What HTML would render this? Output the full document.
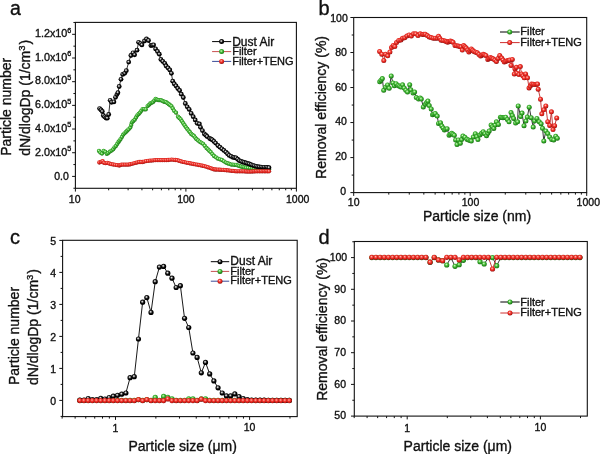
<!DOCTYPE html>
<html><head><meta charset="utf-8"><title>Figure</title>
<style>html,body{margin:0;padding:0;background:#fff;width:600px;height:454px;overflow:hidden}svg{display:block}</style>
</head><body>
<svg width="600" height="454" viewBox="0 0 600 454" font-family="'Liberation Sans', Arial, Helvetica, sans-serif" fill="#111"><style>text{stroke:#111;stroke-width:0.35px}</style>

<defs>
 <radialGradient id="gK" cx="0.45" cy="0.42" r="0.55" fx="0.42" fy="0.38">
  <stop offset="0" stop-color="#f4f4f4"/><stop offset="0.2" stop-color="#b4b4b4"/><stop offset="0.45" stop-color="#303030"/><stop offset="0.7" stop-color="#000"/>
 </radialGradient>
 <radialGradient id="gG" cx="0.45" cy="0.42" r="0.55" fx="0.42" fy="0.38">
  <stop offset="0" stop-color="#e0ffd8"/><stop offset="0.25" stop-color="#88dc78"/><stop offset="0.55" stop-color="#3cb030"/><stop offset="0.85" stop-color="#24901c"/><stop offset="1" stop-color="#1a6c14"/>
 </radialGradient>
 <radialGradient id="gR" cx="0.45" cy="0.42" r="0.55" fx="0.42" fy="0.38">
  <stop offset="0" stop-color="#ffd0c8"/><stop offset="0.25" stop-color="#f87068"/><stop offset="0.55" stop-color="#ec2c24"/><stop offset="0.85" stop-color="#cc1c16"/><stop offset="1" stop-color="#901010"/>
 </radialGradient>
</defs>

<rect width="600" height="454" fill="#fff"/>
<rect x="75.4" y="22.4" width="221" height="165.9" fill="none" stroke="#111" stroke-width="1.1"/><g stroke="#111" stroke-width="1"><line x1="75.4" y1="188.3" x2="75.4" y2="191.6"/><line x1="185.9" y1="188.3" x2="185.9" y2="191.6"/><line x1="296.4" y1="188.3" x2="296.4" y2="191.6"/><line x1="108.66" y1="188.3" x2="108.66" y2="190.3"/><line x1="128.12" y1="188.3" x2="128.12" y2="190.3"/><line x1="141.93" y1="188.3" x2="141.93" y2="190.3"/><line x1="152.64" y1="188.3" x2="152.64" y2="190.3"/><line x1="161.39" y1="188.3" x2="161.39" y2="190.3"/><line x1="168.78" y1="188.3" x2="168.78" y2="190.3"/><line x1="175.19" y1="188.3" x2="175.19" y2="190.3"/><line x1="180.84" y1="188.3" x2="180.84" y2="190.3"/><line x1="219.16" y1="188.3" x2="219.16" y2="190.3"/><line x1="238.62" y1="188.3" x2="238.62" y2="190.3"/><line x1="252.43" y1="188.3" x2="252.43" y2="190.3"/><line x1="263.14" y1="188.3" x2="263.14" y2="190.3"/><line x1="271.89" y1="188.3" x2="271.89" y2="190.3"/><line x1="279.28" y1="188.3" x2="279.28" y2="190.3"/><line x1="285.69" y1="188.3" x2="285.69" y2="190.3"/><line x1="291.34" y1="188.3" x2="291.34" y2="190.3"/><line x1="72.1" y1="176.4" x2="75.4" y2="176.4"/><line x1="72.1" y1="152.72" x2="75.4" y2="152.72"/><line x1="72.1" y1="129.04" x2="75.4" y2="129.04"/><line x1="72.1" y1="105.36" x2="75.4" y2="105.36"/><line x1="72.1" y1="81.68" x2="75.4" y2="81.68"/><line x1="72.1" y1="58" x2="75.4" y2="58"/><line x1="72.1" y1="34.32" x2="75.4" y2="34.32"/><line x1="73.4" y1="188.24" x2="75.4" y2="188.24"/><line x1="73.4" y1="164.56" x2="75.4" y2="164.56"/><line x1="73.4" y1="140.88" x2="75.4" y2="140.88"/><line x1="73.4" y1="117.2" x2="75.4" y2="117.2"/><line x1="73.4" y1="93.52" x2="75.4" y2="93.52"/><line x1="73.4" y1="69.84" x2="75.4" y2="69.84"/><line x1="73.4" y1="46.16" x2="75.4" y2="46.16"/><line x1="73.4" y1="22.48" x2="75.4" y2="22.48"/></g><text x="74.7" y="202.5" font-size="10.5" text-anchor="middle" >10</text><text x="185.9" y="202.5" font-size="10.5" text-anchor="middle" >100</text><text x="297.7" y="202.5" font-size="10.5" text-anchor="middle" >1000</text><text x="68.8" y="180.2" font-size="10.5" text-anchor="end" >0.0</text><text x="71.3" y="155.52" font-size="10.8" text-anchor="end">2.0x10<tspan font-size="7.2" dy="-4.4">5</tspan></text><text x="71.3" y="131.84" font-size="10.8" text-anchor="end">4.0x10<tspan font-size="7.2" dy="-4.4">5</tspan></text><text x="71.3" y="108.16" font-size="10.8" text-anchor="end">6.0x10<tspan font-size="7.2" dy="-4.4">5</tspan></text><text x="71.3" y="84.48" font-size="10.8" text-anchor="end">8.0x10<tspan font-size="7.2" dy="-4.4">5</tspan></text><text x="71.3" y="60.8" font-size="10.8" text-anchor="end">1.0x10<tspan font-size="7.2" dy="-4.4">6</tspan></text><text x="71.3" y="37.12" font-size="10.8" text-anchor="end">1.2x10<tspan font-size="7.2" dy="-4.4">6</tspan></text><text transform="translate(10.8,155.8) rotate(-90)" font-size="14">Particle number</text><text transform="translate(30.0,155.8) rotate(-90)" font-size="14">dN/dlogDp (1/cm<tspan font-size="9.5" dy="-5">3</tspan><tspan dy="5" dx="1">)</tspan></text><text x="10.0" y="15.2" font-size="19.5">a</text><rect x="353.7" y="17.5" width="233" height="175.1" fill="none" stroke="#111" stroke-width="1.1"/><g stroke="#111" stroke-width="1"><line x1="353.7" y1="192.6" x2="353.7" y2="195.9"/><line x1="470.2" y1="192.6" x2="470.2" y2="195.9"/><line x1="586.7" y1="192.6" x2="586.7" y2="195.9"/><line x1="388.77" y1="192.6" x2="388.77" y2="194.6"/><line x1="409.28" y1="192.6" x2="409.28" y2="194.6"/><line x1="423.84" y1="192.6" x2="423.84" y2="194.6"/><line x1="435.13" y1="192.6" x2="435.13" y2="194.6"/><line x1="444.35" y1="192.6" x2="444.35" y2="194.6"/><line x1="452.15" y1="192.6" x2="452.15" y2="194.6"/><line x1="458.91" y1="192.6" x2="458.91" y2="194.6"/><line x1="464.87" y1="192.6" x2="464.87" y2="194.6"/><line x1="505.27" y1="192.6" x2="505.27" y2="194.6"/><line x1="525.78" y1="192.6" x2="525.78" y2="194.6"/><line x1="540.34" y1="192.6" x2="540.34" y2="194.6"/><line x1="551.63" y1="192.6" x2="551.63" y2="194.6"/><line x1="560.85" y1="192.6" x2="560.85" y2="194.6"/><line x1="568.65" y1="192.6" x2="568.65" y2="194.6"/><line x1="575.41" y1="192.6" x2="575.41" y2="194.6"/><line x1="581.37" y1="192.6" x2="581.37" y2="194.6"/><line x1="350.4" y1="192.6" x2="353.7" y2="192.6"/><line x1="350.4" y1="157.58" x2="353.7" y2="157.58"/><line x1="350.4" y1="122.56" x2="353.7" y2="122.56"/><line x1="350.4" y1="87.54" x2="353.7" y2="87.54"/><line x1="350.4" y1="52.52" x2="353.7" y2="52.52"/><line x1="350.4" y1="17.5" x2="353.7" y2="17.5"/><line x1="351.7" y1="175.09" x2="353.7" y2="175.09"/><line x1="351.7" y1="140.07" x2="353.7" y2="140.07"/><line x1="351.7" y1="105.05" x2="353.7" y2="105.05"/><line x1="351.7" y1="70.03" x2="353.7" y2="70.03"/><line x1="351.7" y1="35.01" x2="353.7" y2="35.01"/></g><text x="353.7" y="206.3" font-size="10.5" text-anchor="middle" >10</text><text x="470.5" y="206.3" font-size="10.5" text-anchor="middle" >100</text><text x="588.3" y="206.3" font-size="10.5" text-anchor="middle" >1000</text><text x="346" y="194.7" font-size="10.5" text-anchor="end" >0</text><text x="346.9" y="160.06" font-size="10.5" text-anchor="end" >20</text><text x="346.9" y="125.42" font-size="10.5" text-anchor="end" >40</text><text x="346.9" y="90.78" font-size="10.5" text-anchor="end" >60</text><text x="346.9" y="56.14" font-size="10.5" text-anchor="end" >80</text><text x="347.8" y="21.5" font-size="10.5" text-anchor="end" >100</text><text transform="translate(326.2,178.9) rotate(-90)" font-size="14">Removal efficiency (%)</text><text x="423" y="220.5" font-size="14" text-anchor="start" >Particle size (nm)</text><text x="318.6" y="14.6" font-size="20" text-anchor="start" >b</text><rect x="62.6" y="240.3" width="234.6" height="176.3" fill="none" stroke="#111" stroke-width="1.1"/><g stroke="#111" stroke-width="1"><line x1="115.5" y1="416.6" x2="115.5" y2="419.9"/><line x1="249.6" y1="416.6" x2="249.6" y2="419.9"/><line x1="62.14" y1="416.6" x2="62.14" y2="418.6"/><line x1="75.13" y1="416.6" x2="75.13" y2="418.6"/><line x1="85.75" y1="416.6" x2="85.75" y2="418.6"/><line x1="94.73" y1="416.6" x2="94.73" y2="418.6"/><line x1="102.5" y1="416.6" x2="102.5" y2="418.6"/><line x1="109.36" y1="416.6" x2="109.36" y2="418.6"/><line x1="155.87" y1="416.6" x2="155.87" y2="418.6"/><line x1="179.48" y1="416.6" x2="179.48" y2="418.6"/><line x1="196.24" y1="416.6" x2="196.24" y2="418.6"/><line x1="209.23" y1="416.6" x2="209.23" y2="418.6"/><line x1="219.85" y1="416.6" x2="219.85" y2="418.6"/><line x1="228.83" y1="416.6" x2="228.83" y2="418.6"/><line x1="236.6" y1="416.6" x2="236.6" y2="418.6"/><line x1="243.46" y1="416.6" x2="243.46" y2="418.6"/><line x1="289.97" y1="416.6" x2="289.97" y2="418.6"/><line x1="59.3" y1="400.4" x2="62.6" y2="400.4"/><line x1="59.3" y1="368.4" x2="62.6" y2="368.4"/><line x1="59.3" y1="336.4" x2="62.6" y2="336.4"/><line x1="59.3" y1="304.4" x2="62.6" y2="304.4"/><line x1="59.3" y1="272.4" x2="62.6" y2="272.4"/><line x1="59.3" y1="240.4" x2="62.6" y2="240.4"/><line x1="60.6" y1="416.4" x2="62.6" y2="416.4"/><line x1="60.6" y1="384.4" x2="62.6" y2="384.4"/><line x1="60.6" y1="352.4" x2="62.6" y2="352.4"/><line x1="60.6" y1="320.4" x2="62.6" y2="320.4"/><line x1="60.6" y1="288.4" x2="62.6" y2="288.4"/><line x1="60.6" y1="256.4" x2="62.6" y2="256.4"/></g><text x="115.5" y="431.6" font-size="10.5" text-anchor="middle" >1</text><text x="249.6" y="431.3" font-size="10.5" text-anchor="middle" >10</text><text x="56.2" y="405.1" font-size="10.5" text-anchor="end" >0</text><text x="56.2" y="373.1" font-size="10.5" text-anchor="end" >1</text><text x="56.2" y="341.1" font-size="10.5" text-anchor="end" >2</text><text x="56.2" y="309.1" font-size="10.5" text-anchor="end" >3</text><text x="56.2" y="277.1" font-size="10.5" text-anchor="end" >4</text><text x="56.2" y="245.1" font-size="10.5" text-anchor="end" >5</text><text transform="translate(19.4,385) rotate(-90)" font-size="14">Particle number</text><text transform="translate(38.3,385) rotate(-90)" font-size="14">dN/dlogDp (1/cm<tspan font-size="9.5" dy="-5">3</tspan><tspan dy="5" dx="1">)</tspan></text><text x="128.5" y="451" font-size="14" text-anchor="start" >Particle size (μm)</text><text x="10" y="244.2" font-size="20" text-anchor="start" >c</text><rect x="354.3" y="241.5" width="233" height="174.6" fill="none" stroke="#111" stroke-width="1.1"/><g stroke="#111" stroke-width="1"><line x1="407.2" y1="416.1" x2="407.2" y2="419.4"/><line x1="540.4" y1="416.1" x2="540.4" y2="419.4"/><line x1="354.19" y1="416.1" x2="354.19" y2="418.1"/><line x1="367.1" y1="416.1" x2="367.1" y2="418.1"/><line x1="377.65" y1="416.1" x2="377.65" y2="418.1"/><line x1="386.57" y1="416.1" x2="386.57" y2="418.1"/><line x1="394.29" y1="416.1" x2="394.29" y2="418.1"/><line x1="401.11" y1="416.1" x2="401.11" y2="418.1"/><line x1="447.3" y1="416.1" x2="447.3" y2="418.1"/><line x1="470.75" y1="416.1" x2="470.75" y2="418.1"/><line x1="487.39" y1="416.1" x2="487.39" y2="418.1"/><line x1="500.3" y1="416.1" x2="500.3" y2="418.1"/><line x1="510.85" y1="416.1" x2="510.85" y2="418.1"/><line x1="519.77" y1="416.1" x2="519.77" y2="418.1"/><line x1="527.49" y1="416.1" x2="527.49" y2="418.1"/><line x1="534.31" y1="416.1" x2="534.31" y2="418.1"/><line x1="580.5" y1="416.1" x2="580.5" y2="418.1"/><line x1="351" y1="416.1" x2="354.3" y2="416.1"/><line x1="351" y1="384.4" x2="354.3" y2="384.4"/><line x1="351" y1="352.7" x2="354.3" y2="352.7"/><line x1="351" y1="321" x2="354.3" y2="321"/><line x1="351" y1="289.3" x2="354.3" y2="289.3"/><line x1="351" y1="257.6" x2="354.3" y2="257.6"/><line x1="352.3" y1="400.25" x2="354.3" y2="400.25"/><line x1="352.3" y1="368.55" x2="354.3" y2="368.55"/><line x1="352.3" y1="336.85" x2="354.3" y2="336.85"/><line x1="352.3" y1="305.15" x2="354.3" y2="305.15"/><line x1="352.3" y1="273.45" x2="354.3" y2="273.45"/><line x1="352.3" y1="241.75" x2="354.3" y2="241.75"/></g><text x="407.2" y="431.6" font-size="10.5" text-anchor="middle" >1</text><text x="540.4" y="431.3" font-size="10.5" text-anchor="middle" >10</text><text x="346" y="419.3" font-size="10.5" text-anchor="end" >50</text><text x="346" y="387.6" font-size="10.5" text-anchor="end" >60</text><text x="346" y="355.9" font-size="10.5" text-anchor="end" >70</text><text x="346" y="324.2" font-size="10.5" text-anchor="end" >80</text><text x="346" y="292.5" font-size="10.5" text-anchor="end" >90</text><text x="347.2" y="260.8" font-size="10.5" text-anchor="end" >100</text><text transform="translate(326.5,400.8) rotate(-90)" font-size="14">Removal efficiency (%)</text><text x="403.6" y="450.5" font-size="14" text-anchor="start" >Particle size (μm)</text><text x="318.6" y="243.8" font-size="20" text-anchor="start" >d</text>
<path d="M99,150.9 L100.3,152.6 L102,153.6 L103.6,150.9 L105.3,151.9 L106.9,153.9 L108.3,152.9 L109.9,151.6 L111.6,150.6 L113.2,149.3 L114.5,147.3 L115.9,146 L117.2,144 L118.5,142 L119.55,140.55 L120.6,139.1 L121.9,136.9 L123.2,134.7 L124.55,133.35 L125.9,132 L127.2,130.7 L128.5,129.4 L130.3,127.6 L131.2,125 L132,122.3 L133.35,121 L134.7,119.7 L136,117.5 L137.3,115.3 L138.65,113.95 L140,112.6 L141.3,110.85 L142.6,109.1 L144.15,109.25 L145.7,109.4 L147.6,106.1 L148.95,104.8 L150.3,103.5 L151.6,102.85 L152.9,102.2 L154.25,100.55 L155.6,98.9 L156.9,99.55 L158.2,100.2 L159.55,100.2 L160.9,100.2 L162.2,100.85 L163.5,101.5 L164.8,101.85 L166.1,102.2 L167.45,103.2 L168.8,104.2 L170.1,105.15 L171.4,106.1 L172.75,108.45 L174.1,110.8 L176,112.7 L178,116.7 L179.35,118 L180.7,119.3 L182,121.3 L183.3,123.3 L184.65,125.3 L186,127.3 L187.3,128.95 L188.6,130.6 L189.9,132.25 L191.2,133.9 L192.55,134.9 L193.9,135.9 L195.2,137.55 L196.5,139.2 L198.15,140.5 L199.8,141.8 L201.45,142.8 L203.1,143.8 L204.8,145.9 L206.5,148 L207.9,149.37 L209.3,150.73 L210.7,152.1 L212.35,154.05 L214,156 L215.95,157.35 L217.9,158.7 L219.9,159.35 L221.9,160 L223.9,161.3 L225.9,162.6 L227.63,163.27 L229.37,163.93 L231.1,164.6 L232.73,164.7 L234.37,164.8 L236,164.9 L237.65,165.45 L239.3,166 L241,166.5 L242.7,167 L244.35,167.35 L246,167.7 L248,167.93 L250,168.17 L252,168.4 L254,168.5 L256,168.6 L258,168.7 L260,168.8 L261.8,168.88 L263.6,168.96 L265.4,169.04 L267.2,169.12 L269,169.2" fill="none" stroke="#e03030" stroke-width="0.6"/><circle cx="99" cy="150.9" r="2.15" fill="url(#gG)"/><circle cx="100.3" cy="152.6" r="2.15" fill="url(#gG)"/><circle cx="102" cy="153.6" r="2.15" fill="url(#gG)"/><circle cx="103.6" cy="150.9" r="2.15" fill="url(#gG)"/><circle cx="105.3" cy="151.9" r="2.15" fill="url(#gG)"/><circle cx="106.9" cy="153.9" r="2.15" fill="url(#gG)"/><circle cx="108.3" cy="152.9" r="2.15" fill="url(#gG)"/><circle cx="109.9" cy="151.6" r="2.15" fill="url(#gG)"/><circle cx="111.6" cy="150.6" r="2.15" fill="url(#gG)"/><circle cx="113.2" cy="149.3" r="2.15" fill="url(#gG)"/><circle cx="114.5" cy="147.3" r="2.15" fill="url(#gG)"/><circle cx="115.9" cy="146" r="2.15" fill="url(#gG)"/><circle cx="117.2" cy="144" r="2.15" fill="url(#gG)"/><circle cx="118.5" cy="142" r="2.15" fill="url(#gG)"/><circle cx="119.55" cy="140.55" r="2.15" fill="url(#gG)"/><circle cx="120.6" cy="139.1" r="2.15" fill="url(#gG)"/><circle cx="121.9" cy="136.9" r="2.15" fill="url(#gG)"/><circle cx="123.2" cy="134.7" r="2.15" fill="url(#gG)"/><circle cx="124.55" cy="133.35" r="2.15" fill="url(#gG)"/><circle cx="125.9" cy="132" r="2.15" fill="url(#gG)"/><circle cx="127.2" cy="130.7" r="2.15" fill="url(#gG)"/><circle cx="128.5" cy="129.4" r="2.15" fill="url(#gG)"/><circle cx="130.3" cy="127.6" r="2.15" fill="url(#gG)"/><circle cx="131.2" cy="125" r="2.15" fill="url(#gG)"/><circle cx="132" cy="122.3" r="2.15" fill="url(#gG)"/><circle cx="133.35" cy="121" r="2.15" fill="url(#gG)"/><circle cx="134.7" cy="119.7" r="2.15" fill="url(#gG)"/><circle cx="136" cy="117.5" r="2.15" fill="url(#gG)"/><circle cx="137.3" cy="115.3" r="2.15" fill="url(#gG)"/><circle cx="138.65" cy="113.95" r="2.15" fill="url(#gG)"/><circle cx="140" cy="112.6" r="2.15" fill="url(#gG)"/><circle cx="141.3" cy="110.85" r="2.15" fill="url(#gG)"/><circle cx="142.6" cy="109.1" r="2.15" fill="url(#gG)"/><circle cx="144.15" cy="109.25" r="2.15" fill="url(#gG)"/><circle cx="145.7" cy="109.4" r="2.15" fill="url(#gG)"/><circle cx="147.6" cy="106.1" r="2.15" fill="url(#gG)"/><circle cx="148.95" cy="104.8" r="2.15" fill="url(#gG)"/><circle cx="150.3" cy="103.5" r="2.15" fill="url(#gG)"/><circle cx="151.6" cy="102.85" r="2.15" fill="url(#gG)"/><circle cx="152.9" cy="102.2" r="2.15" fill="url(#gG)"/><circle cx="154.25" cy="100.55" r="2.15" fill="url(#gG)"/><circle cx="155.6" cy="98.9" r="2.15" fill="url(#gG)"/><circle cx="156.9" cy="99.55" r="2.15" fill="url(#gG)"/><circle cx="158.2" cy="100.2" r="2.15" fill="url(#gG)"/><circle cx="159.55" cy="100.2" r="2.15" fill="url(#gG)"/><circle cx="160.9" cy="100.2" r="2.15" fill="url(#gG)"/><circle cx="162.2" cy="100.85" r="2.15" fill="url(#gG)"/><circle cx="163.5" cy="101.5" r="2.15" fill="url(#gG)"/><circle cx="164.8" cy="101.85" r="2.15" fill="url(#gG)"/><circle cx="166.1" cy="102.2" r="2.15" fill="url(#gG)"/><circle cx="167.45" cy="103.2" r="2.15" fill="url(#gG)"/><circle cx="168.8" cy="104.2" r="2.15" fill="url(#gG)"/><circle cx="170.1" cy="105.15" r="2.15" fill="url(#gG)"/><circle cx="171.4" cy="106.1" r="2.15" fill="url(#gG)"/><circle cx="172.75" cy="108.45" r="2.15" fill="url(#gG)"/><circle cx="174.1" cy="110.8" r="2.15" fill="url(#gG)"/><circle cx="176" cy="112.7" r="2.15" fill="url(#gG)"/><circle cx="178" cy="116.7" r="2.15" fill="url(#gG)"/><circle cx="179.35" cy="118" r="2.15" fill="url(#gG)"/><circle cx="180.7" cy="119.3" r="2.15" fill="url(#gG)"/><circle cx="182" cy="121.3" r="2.15" fill="url(#gG)"/><circle cx="183.3" cy="123.3" r="2.15" fill="url(#gG)"/><circle cx="184.65" cy="125.3" r="2.15" fill="url(#gG)"/><circle cx="186" cy="127.3" r="2.15" fill="url(#gG)"/><circle cx="187.3" cy="128.95" r="2.15" fill="url(#gG)"/><circle cx="188.6" cy="130.6" r="2.15" fill="url(#gG)"/><circle cx="189.9" cy="132.25" r="2.15" fill="url(#gG)"/><circle cx="191.2" cy="133.9" r="2.15" fill="url(#gG)"/><circle cx="192.55" cy="134.9" r="2.15" fill="url(#gG)"/><circle cx="193.9" cy="135.9" r="2.15" fill="url(#gG)"/><circle cx="195.2" cy="137.55" r="2.15" fill="url(#gG)"/><circle cx="196.5" cy="139.2" r="2.15" fill="url(#gG)"/><circle cx="198.15" cy="140.5" r="2.15" fill="url(#gG)"/><circle cx="199.8" cy="141.8" r="2.15" fill="url(#gG)"/><circle cx="201.45" cy="142.8" r="2.15" fill="url(#gG)"/><circle cx="203.1" cy="143.8" r="2.15" fill="url(#gG)"/><circle cx="204.8" cy="145.9" r="2.15" fill="url(#gG)"/><circle cx="206.5" cy="148" r="2.15" fill="url(#gG)"/><circle cx="207.9" cy="149.37" r="2.15" fill="url(#gG)"/><circle cx="209.3" cy="150.73" r="2.15" fill="url(#gG)"/><circle cx="210.7" cy="152.1" r="2.15" fill="url(#gG)"/><circle cx="212.35" cy="154.05" r="2.15" fill="url(#gG)"/><circle cx="214" cy="156" r="2.15" fill="url(#gG)"/><circle cx="215.95" cy="157.35" r="2.15" fill="url(#gG)"/><circle cx="217.9" cy="158.7" r="2.15" fill="url(#gG)"/><circle cx="219.9" cy="159.35" r="2.15" fill="url(#gG)"/><circle cx="221.9" cy="160" r="2.15" fill="url(#gG)"/><circle cx="223.9" cy="161.3" r="2.15" fill="url(#gG)"/><circle cx="225.9" cy="162.6" r="2.15" fill="url(#gG)"/><circle cx="227.63" cy="163.27" r="2.15" fill="url(#gG)"/><circle cx="229.37" cy="163.93" r="2.15" fill="url(#gG)"/><circle cx="231.1" cy="164.6" r="2.15" fill="url(#gG)"/><circle cx="232.73" cy="164.7" r="2.15" fill="url(#gG)"/><circle cx="234.37" cy="164.8" r="2.15" fill="url(#gG)"/><circle cx="236" cy="164.9" r="2.15" fill="url(#gG)"/><circle cx="237.65" cy="165.45" r="2.15" fill="url(#gG)"/><circle cx="239.3" cy="166" r="2.15" fill="url(#gG)"/><circle cx="241" cy="166.5" r="2.15" fill="url(#gG)"/><circle cx="242.7" cy="167" r="2.15" fill="url(#gG)"/><circle cx="244.35" cy="167.35" r="2.15" fill="url(#gG)"/><circle cx="246" cy="167.7" r="2.15" fill="url(#gG)"/><circle cx="248" cy="167.93" r="2.15" fill="url(#gG)"/><circle cx="250" cy="168.17" r="2.15" fill="url(#gG)"/><circle cx="252" cy="168.4" r="2.15" fill="url(#gG)"/><circle cx="254" cy="168.5" r="2.15" fill="url(#gG)"/><circle cx="256" cy="168.6" r="2.15" fill="url(#gG)"/><circle cx="258" cy="168.7" r="2.15" fill="url(#gG)"/><circle cx="260" cy="168.8" r="2.15" fill="url(#gG)"/><circle cx="261.8" cy="168.88" r="2.15" fill="url(#gG)"/><circle cx="263.6" cy="168.96" r="2.15" fill="url(#gG)"/><circle cx="265.4" cy="169.04" r="2.15" fill="url(#gG)"/><circle cx="267.2" cy="169.12" r="2.15" fill="url(#gG)"/><circle cx="269" cy="169.2" r="2.15" fill="url(#gG)"/><path d="M99.6,108.6 L101,109.9 L102.3,111.5 L103.3,115.5 L104.6,116.8 L106,118 L107.3,118.2 L108.7,114.5 L110.2,100.3 L111.6,102.3 L113.9,101.9 L115.5,97.3 L116.9,94.6 L117.9,92.7 L119.2,86.5 L121,79.3 L122.7,74.4 L124.7,73.3 L126.3,70.7 L128.7,62.1 L130.9,55.5 L133,52.8 L134.6,54.8 L137,50.2 L138.6,42.3 L140.6,43.6 L141.9,44.9 L144.5,41 L146.5,39 L148.5,40.5 L150.9,45.6 L152.25,45.25 L153.6,44.9 L155.6,48.9 L157.5,51.5 L159.3,54.2 L160.9,59.4 L162.8,61.4 L164.8,63.4 L166.1,66 L168.1,68 L169.8,70 L171.4,73.3 L172.7,81.2 L174.3,83.9 L176,85.9 L177.8,88.5 L179.6,90.5 L181.3,94.2 L183.3,97.5 L185.3,103.5 L187.2,106.8 L189.2,109.4 L191.2,113.4 L193.2,116.7 L195.2,120 L197.2,123.3 L199.4,124 L200.5,127.3 L202.4,130.6 L204.4,133.9 L205.75,135.2 L207.1,136.5 L209.7,138.5 L211,139.15 L212.3,139.8 L213.95,141.45 L215.6,143.1 L217.9,145.5 L219.9,147.15 L221.9,148.8 L223.9,150.45 L225.9,152.1 L227.55,153.75 L229.2,155.4 L231.15,156.4 L233.1,157.4 L234.55,157.6 L236,157.8 L237.65,159.25 L239.3,160.7 L241,161.35 L242.7,162 L244.35,162.5 L246,163 L247.65,163.5 L249.3,164 L251,164.65 L252.7,165.3 L254.35,165.8 L256,166.3 L257.65,166.65 L259.3,167 L261,167.15 L262.7,167.3 L264.35,167.3 L266,167.3 L267.5,167.5 L269,167.7" fill="none" stroke="#000" stroke-width="0.8"/><circle cx="99.6" cy="108.6" r="2.4" fill="url(#gK)"/><circle cx="101" cy="109.9" r="2.4" fill="url(#gK)"/><circle cx="102.3" cy="111.5" r="2.4" fill="url(#gK)"/><circle cx="103.3" cy="115.5" r="2.4" fill="url(#gK)"/><circle cx="104.6" cy="116.8" r="2.4" fill="url(#gK)"/><circle cx="106" cy="118" r="2.4" fill="url(#gK)"/><circle cx="107.3" cy="118.2" r="2.4" fill="url(#gK)"/><circle cx="108.7" cy="114.5" r="2.4" fill="url(#gK)"/><circle cx="110.2" cy="100.3" r="2.4" fill="url(#gK)"/><circle cx="111.6" cy="102.3" r="2.4" fill="url(#gK)"/><circle cx="113.9" cy="101.9" r="2.4" fill="url(#gK)"/><circle cx="115.5" cy="97.3" r="2.4" fill="url(#gK)"/><circle cx="116.9" cy="94.6" r="2.4" fill="url(#gK)"/><circle cx="117.9" cy="92.7" r="2.4" fill="url(#gK)"/><circle cx="119.2" cy="86.5" r="2.4" fill="url(#gK)"/><circle cx="121" cy="79.3" r="2.4" fill="url(#gK)"/><circle cx="122.7" cy="74.4" r="2.4" fill="url(#gK)"/><circle cx="124.7" cy="73.3" r="2.4" fill="url(#gK)"/><circle cx="126.3" cy="70.7" r="2.4" fill="url(#gK)"/><circle cx="128.7" cy="62.1" r="2.4" fill="url(#gK)"/><circle cx="130.9" cy="55.5" r="2.4" fill="url(#gK)"/><circle cx="133" cy="52.8" r="2.4" fill="url(#gK)"/><circle cx="134.6" cy="54.8" r="2.4" fill="url(#gK)"/><circle cx="137" cy="50.2" r="2.4" fill="url(#gK)"/><circle cx="138.6" cy="42.3" r="2.4" fill="url(#gK)"/><circle cx="140.6" cy="43.6" r="2.4" fill="url(#gK)"/><circle cx="141.9" cy="44.9" r="2.4" fill="url(#gK)"/><circle cx="144.5" cy="41" r="2.4" fill="url(#gK)"/><circle cx="146.5" cy="39" r="2.4" fill="url(#gK)"/><circle cx="148.5" cy="40.5" r="2.4" fill="url(#gK)"/><circle cx="150.9" cy="45.6" r="2.4" fill="url(#gK)"/><circle cx="152.25" cy="45.25" r="2.4" fill="url(#gK)"/><circle cx="153.6" cy="44.9" r="2.4" fill="url(#gK)"/><circle cx="155.6" cy="48.9" r="2.4" fill="url(#gK)"/><circle cx="157.5" cy="51.5" r="2.4" fill="url(#gK)"/><circle cx="159.3" cy="54.2" r="2.4" fill="url(#gK)"/><circle cx="160.9" cy="59.4" r="2.4" fill="url(#gK)"/><circle cx="162.8" cy="61.4" r="2.4" fill="url(#gK)"/><circle cx="164.8" cy="63.4" r="2.4" fill="url(#gK)"/><circle cx="166.1" cy="66" r="2.4" fill="url(#gK)"/><circle cx="168.1" cy="68" r="2.4" fill="url(#gK)"/><circle cx="169.8" cy="70" r="2.4" fill="url(#gK)"/><circle cx="171.4" cy="73.3" r="2.4" fill="url(#gK)"/><circle cx="172.7" cy="81.2" r="2.4" fill="url(#gK)"/><circle cx="174.3" cy="83.9" r="2.4" fill="url(#gK)"/><circle cx="176" cy="85.9" r="2.4" fill="url(#gK)"/><circle cx="177.8" cy="88.5" r="2.4" fill="url(#gK)"/><circle cx="179.6" cy="90.5" r="2.4" fill="url(#gK)"/><circle cx="181.3" cy="94.2" r="2.4" fill="url(#gK)"/><circle cx="183.3" cy="97.5" r="2.4" fill="url(#gK)"/><circle cx="185.3" cy="103.5" r="2.4" fill="url(#gK)"/><circle cx="187.2" cy="106.8" r="2.4" fill="url(#gK)"/><circle cx="189.2" cy="109.4" r="2.4" fill="url(#gK)"/><circle cx="191.2" cy="113.4" r="2.4" fill="url(#gK)"/><circle cx="193.2" cy="116.7" r="2.4" fill="url(#gK)"/><circle cx="195.2" cy="120" r="2.4" fill="url(#gK)"/><circle cx="197.2" cy="123.3" r="2.4" fill="url(#gK)"/><circle cx="199.4" cy="124" r="2.4" fill="url(#gK)"/><circle cx="200.5" cy="127.3" r="2.4" fill="url(#gK)"/><circle cx="202.4" cy="130.6" r="2.4" fill="url(#gK)"/><circle cx="204.4" cy="133.9" r="2.4" fill="url(#gK)"/><circle cx="205.75" cy="135.2" r="2.4" fill="url(#gK)"/><circle cx="207.1" cy="136.5" r="2.4" fill="url(#gK)"/><circle cx="209.7" cy="138.5" r="2.4" fill="url(#gK)"/><circle cx="211" cy="139.15" r="2.4" fill="url(#gK)"/><circle cx="212.3" cy="139.8" r="2.4" fill="url(#gK)"/><circle cx="213.95" cy="141.45" r="2.4" fill="url(#gK)"/><circle cx="215.6" cy="143.1" r="2.4" fill="url(#gK)"/><circle cx="217.9" cy="145.5" r="2.4" fill="url(#gK)"/><circle cx="219.9" cy="147.15" r="2.4" fill="url(#gK)"/><circle cx="221.9" cy="148.8" r="2.4" fill="url(#gK)"/><circle cx="223.9" cy="150.45" r="2.4" fill="url(#gK)"/><circle cx="225.9" cy="152.1" r="2.4" fill="url(#gK)"/><circle cx="227.55" cy="153.75" r="2.4" fill="url(#gK)"/><circle cx="229.2" cy="155.4" r="2.4" fill="url(#gK)"/><circle cx="231.15" cy="156.4" r="2.4" fill="url(#gK)"/><circle cx="233.1" cy="157.4" r="2.4" fill="url(#gK)"/><circle cx="234.55" cy="157.6" r="2.4" fill="url(#gK)"/><circle cx="236" cy="157.8" r="2.4" fill="url(#gK)"/><circle cx="237.65" cy="159.25" r="2.4" fill="url(#gK)"/><circle cx="239.3" cy="160.7" r="2.4" fill="url(#gK)"/><circle cx="241" cy="161.35" r="2.4" fill="url(#gK)"/><circle cx="242.7" cy="162" r="2.4" fill="url(#gK)"/><circle cx="244.35" cy="162.5" r="2.4" fill="url(#gK)"/><circle cx="246" cy="163" r="2.4" fill="url(#gK)"/><circle cx="247.65" cy="163.5" r="2.4" fill="url(#gK)"/><circle cx="249.3" cy="164" r="2.4" fill="url(#gK)"/><circle cx="251" cy="164.65" r="2.4" fill="url(#gK)"/><circle cx="252.7" cy="165.3" r="2.4" fill="url(#gK)"/><circle cx="254.35" cy="165.8" r="2.4" fill="url(#gK)"/><circle cx="256" cy="166.3" r="2.4" fill="url(#gK)"/><circle cx="257.65" cy="166.65" r="2.4" fill="url(#gK)"/><circle cx="259.3" cy="167" r="2.4" fill="url(#gK)"/><circle cx="261" cy="167.15" r="2.4" fill="url(#gK)"/><circle cx="262.7" cy="167.3" r="2.4" fill="url(#gK)"/><circle cx="264.35" cy="167.3" r="2.4" fill="url(#gK)"/><circle cx="266" cy="167.3" r="2.4" fill="url(#gK)"/><circle cx="267.5" cy="167.5" r="2.4" fill="url(#gK)"/><circle cx="269" cy="167.7" r="2.4" fill="url(#gK)"/><path d="M99.3,162.5 L101,161.9 L102.6,161.2 L103.9,162.8 L105.6,163.2 L107.3,162.8 L109.2,163.5 L111.2,164.2 L113.2,164.5 L115.2,164.8 L117.2,165.2 L119.2,165.5 L120.35,165.1 L121.5,164.7 L123.25,164.7 L125,164.7 L126.75,164.7 L128.5,164.7 L130.25,164.25 L132,163.8 L133.8,163.35 L135.6,162.9 L137.35,162.45 L139.1,162 L140.85,162 L142.6,162 L144.35,161.55 L146.1,161.1 L148.05,160.9 L150,160.7 L151.8,160.53 L153.6,160.37 L155.4,160.2 L157.2,160.2 L159,160.2 L160.8,160.2 L162.63,160.2 L164.47,160.2 L166.3,160.2 L168.1,160 L169.9,159.8 L171.7,159.6 L173.5,159.8 L175.3,160 L177.1,160.2 L178.9,160.73 L180.7,161.27 L182.5,161.8 L184.3,162.17 L186.1,162.53 L187.9,162.9 L189.7,163.27 L191.5,163.63 L193.3,164 L195.13,164.33 L196.97,164.67 L198.8,165 L200.6,165.37 L202.4,165.73 L204.2,166.1 L206,166.67 L207.8,167.23 L209.6,167.8 L211.03,168.33 L212.47,168.87 L213.9,169.4 L215.25,169.5 L216.6,169.6 L218.25,169.68 L219.9,169.75 L221.55,169.82 L223.2,169.9 L224.85,170.07 L226.5,170.25 L228.15,170.43 L229.8,170.6 L231.35,170.78 L232.9,170.95 L234.45,171.12 L236,171.3 L237.68,171.3 L239.35,171.3 L241.02,171.3 L242.7,171.3 L244.35,171.4 L246,171.5 L247.65,171.6 L249.3,171.7 L250.98,171.6 L252.65,171.5 L254.32,171.4 L256,171.3 L257.68,171.3 L259.35,171.3 L261.02,171.3 L262.7,171.3 L264.27,171.3 L265.85,171.3 L267.43,171.3 L269,171.3" fill="none" stroke="#3040c0" stroke-width="0.6"/><circle cx="99.3" cy="162.5" r="2.15" fill="url(#gR)"/><circle cx="101" cy="161.9" r="2.15" fill="url(#gR)"/><circle cx="102.6" cy="161.2" r="2.15" fill="url(#gR)"/><circle cx="103.9" cy="162.8" r="2.15" fill="url(#gR)"/><circle cx="105.6" cy="163.2" r="2.15" fill="url(#gR)"/><circle cx="107.3" cy="162.8" r="2.15" fill="url(#gR)"/><circle cx="109.2" cy="163.5" r="2.15" fill="url(#gR)"/><circle cx="111.2" cy="164.2" r="2.15" fill="url(#gR)"/><circle cx="113.2" cy="164.5" r="2.15" fill="url(#gR)"/><circle cx="115.2" cy="164.8" r="2.15" fill="url(#gR)"/><circle cx="117.2" cy="165.2" r="2.15" fill="url(#gR)"/><circle cx="119.2" cy="165.5" r="2.15" fill="url(#gR)"/><circle cx="120.35" cy="165.1" r="2.15" fill="url(#gR)"/><circle cx="121.5" cy="164.7" r="2.15" fill="url(#gR)"/><circle cx="123.25" cy="164.7" r="2.15" fill="url(#gR)"/><circle cx="125" cy="164.7" r="2.15" fill="url(#gR)"/><circle cx="126.75" cy="164.7" r="2.15" fill="url(#gR)"/><circle cx="128.5" cy="164.7" r="2.15" fill="url(#gR)"/><circle cx="130.25" cy="164.25" r="2.15" fill="url(#gR)"/><circle cx="132" cy="163.8" r="2.15" fill="url(#gR)"/><circle cx="133.8" cy="163.35" r="2.15" fill="url(#gR)"/><circle cx="135.6" cy="162.9" r="2.15" fill="url(#gR)"/><circle cx="137.35" cy="162.45" r="2.15" fill="url(#gR)"/><circle cx="139.1" cy="162" r="2.15" fill="url(#gR)"/><circle cx="140.85" cy="162" r="2.15" fill="url(#gR)"/><circle cx="142.6" cy="162" r="2.15" fill="url(#gR)"/><circle cx="144.35" cy="161.55" r="2.15" fill="url(#gR)"/><circle cx="146.1" cy="161.1" r="2.15" fill="url(#gR)"/><circle cx="148.05" cy="160.9" r="2.15" fill="url(#gR)"/><circle cx="150" cy="160.7" r="2.15" fill="url(#gR)"/><circle cx="151.8" cy="160.53" r="2.15" fill="url(#gR)"/><circle cx="153.6" cy="160.37" r="2.15" fill="url(#gR)"/><circle cx="155.4" cy="160.2" r="2.15" fill="url(#gR)"/><circle cx="157.2" cy="160.2" r="2.15" fill="url(#gR)"/><circle cx="159" cy="160.2" r="2.15" fill="url(#gR)"/><circle cx="160.8" cy="160.2" r="2.15" fill="url(#gR)"/><circle cx="162.63" cy="160.2" r="2.15" fill="url(#gR)"/><circle cx="164.47" cy="160.2" r="2.15" fill="url(#gR)"/><circle cx="166.3" cy="160.2" r="2.15" fill="url(#gR)"/><circle cx="168.1" cy="160" r="2.15" fill="url(#gR)"/><circle cx="169.9" cy="159.8" r="2.15" fill="url(#gR)"/><circle cx="171.7" cy="159.6" r="2.15" fill="url(#gR)"/><circle cx="173.5" cy="159.8" r="2.15" fill="url(#gR)"/><circle cx="175.3" cy="160" r="2.15" fill="url(#gR)"/><circle cx="177.1" cy="160.2" r="2.15" fill="url(#gR)"/><circle cx="178.9" cy="160.73" r="2.15" fill="url(#gR)"/><circle cx="180.7" cy="161.27" r="2.15" fill="url(#gR)"/><circle cx="182.5" cy="161.8" r="2.15" fill="url(#gR)"/><circle cx="184.3" cy="162.17" r="2.15" fill="url(#gR)"/><circle cx="186.1" cy="162.53" r="2.15" fill="url(#gR)"/><circle cx="187.9" cy="162.9" r="2.15" fill="url(#gR)"/><circle cx="189.7" cy="163.27" r="2.15" fill="url(#gR)"/><circle cx="191.5" cy="163.63" r="2.15" fill="url(#gR)"/><circle cx="193.3" cy="164" r="2.15" fill="url(#gR)"/><circle cx="195.13" cy="164.33" r="2.15" fill="url(#gR)"/><circle cx="196.97" cy="164.67" r="2.15" fill="url(#gR)"/><circle cx="198.8" cy="165" r="2.15" fill="url(#gR)"/><circle cx="200.6" cy="165.37" r="2.15" fill="url(#gR)"/><circle cx="202.4" cy="165.73" r="2.15" fill="url(#gR)"/><circle cx="204.2" cy="166.1" r="2.15" fill="url(#gR)"/><circle cx="206" cy="166.67" r="2.15" fill="url(#gR)"/><circle cx="207.8" cy="167.23" r="2.15" fill="url(#gR)"/><circle cx="209.6" cy="167.8" r="2.15" fill="url(#gR)"/><circle cx="211.03" cy="168.33" r="2.15" fill="url(#gR)"/><circle cx="212.47" cy="168.87" r="2.15" fill="url(#gR)"/><circle cx="213.9" cy="169.4" r="2.15" fill="url(#gR)"/><circle cx="215.25" cy="169.5" r="2.15" fill="url(#gR)"/><circle cx="216.6" cy="169.6" r="2.15" fill="url(#gR)"/><circle cx="218.25" cy="169.68" r="2.15" fill="url(#gR)"/><circle cx="219.9" cy="169.75" r="2.15" fill="url(#gR)"/><circle cx="221.55" cy="169.82" r="2.15" fill="url(#gR)"/><circle cx="223.2" cy="169.9" r="2.15" fill="url(#gR)"/><circle cx="224.85" cy="170.07" r="2.15" fill="url(#gR)"/><circle cx="226.5" cy="170.25" r="2.15" fill="url(#gR)"/><circle cx="228.15" cy="170.43" r="2.15" fill="url(#gR)"/><circle cx="229.8" cy="170.6" r="2.15" fill="url(#gR)"/><circle cx="231.35" cy="170.78" r="2.15" fill="url(#gR)"/><circle cx="232.9" cy="170.95" r="2.15" fill="url(#gR)"/><circle cx="234.45" cy="171.12" r="2.15" fill="url(#gR)"/><circle cx="236" cy="171.3" r="2.15" fill="url(#gR)"/><circle cx="237.68" cy="171.3" r="2.15" fill="url(#gR)"/><circle cx="239.35" cy="171.3" r="2.15" fill="url(#gR)"/><circle cx="241.02" cy="171.3" r="2.15" fill="url(#gR)"/><circle cx="242.7" cy="171.3" r="2.15" fill="url(#gR)"/><circle cx="244.35" cy="171.4" r="2.15" fill="url(#gR)"/><circle cx="246" cy="171.5" r="2.15" fill="url(#gR)"/><circle cx="247.65" cy="171.6" r="2.15" fill="url(#gR)"/><circle cx="249.3" cy="171.7" r="2.15" fill="url(#gR)"/><circle cx="250.98" cy="171.6" r="2.15" fill="url(#gR)"/><circle cx="252.65" cy="171.5" r="2.15" fill="url(#gR)"/><circle cx="254.32" cy="171.4" r="2.15" fill="url(#gR)"/><circle cx="256" cy="171.3" r="2.15" fill="url(#gR)"/><circle cx="257.68" cy="171.3" r="2.15" fill="url(#gR)"/><circle cx="259.35" cy="171.3" r="2.15" fill="url(#gR)"/><circle cx="261.02" cy="171.3" r="2.15" fill="url(#gR)"/><circle cx="262.7" cy="171.3" r="2.15" fill="url(#gR)"/><circle cx="264.27" cy="171.3" r="2.15" fill="url(#gR)"/><circle cx="265.85" cy="171.3" r="2.15" fill="url(#gR)"/><circle cx="267.43" cy="171.3" r="2.15" fill="url(#gR)"/><circle cx="269" cy="171.3" r="2.15" fill="url(#gR)"/><path d="M379.7,81.7 L381,80.15 L382.3,78.6 L383.7,90.3 L385.5,87.2 L387.5,84.9 L389.2,88.3 L391.2,76 L392.9,82.9 L394.3,85.7 L396.1,83.7 L398.1,85.5 L399.5,86.25 L400.9,87 L402.5,84.8 L404.2,88.1 L405.8,90.3 L407.5,92 L409.7,84.8 L410.8,89.8 L413,93.1 L414.6,92 L416.3,97.5 L418.5,99.1 L420.2,98 L421.3,99 L423.3,106.9 L425.3,104.2 L426.6,102.6 L427.9,101 L429.2,105.6 L431.2,108.9 L432.5,114.8 L433.85,114.15 L435.2,113.5 L437.2,116.1 L438.5,123.4 L440.5,122.7 L441.8,126 L443.1,128 L444.4,130 L445.75,129.35 L447.1,128.7 L449.1,135.3 L450.4,134.3 L451.7,133.3 L453,134.3 L454.3,135.3 L455.65,139.9 L457,144.5 L458.3,139.9 L460.3,143.2 L461.6,139.6 L462.9,136 L464.9,137.3 L466.9,139.3 L468.55,139.95 L470.2,140.6 L471.3,141 L473.3,137 L475.3,133.7 L476.6,136.65 L477.9,139.6 L479.9,135 L481.55,133.35 L483.2,131.7 L484.85,133.7 L486.5,135.7 L487.85,133.35 L489.2,131 L491.1,125.1 L492.45,126.75 L493.8,128.4 L495.1,125.1 L496.4,121.8 L498.4,124.4 L500.4,117.2 L501.7,117.5 L503,117.8 L504.35,117.5 L505.7,117.2 L507.35,119.5 L509,121.8 L511,112.5 L512.3,115.5 L513.6,118.5 L515.6,123.1 L517.6,121.8 L518.2,105.9 L520.6,116.4 L522,113.1 L524,125.7 L525.9,121 L527.3,117.1 L529.2,107.2 L531.2,117.7 L533.2,127 L534.5,121 L536.9,118.4 L539.2,121.7 L541.1,123.7 L542.5,128.3 L543.8,140.9 L545.8,131 L547.7,133.6 L549.7,136.9 L551.7,139.5 L553.7,139.9 L555.7,136.2 L557.3,138.2" fill="none" stroke="#000" stroke-width="0.8"/><circle cx="379.7" cy="81.7" r="2.5" fill="url(#gG)"/><circle cx="381" cy="80.15" r="2.5" fill="url(#gG)"/><circle cx="382.3" cy="78.6" r="2.5" fill="url(#gG)"/><circle cx="383.7" cy="90.3" r="2.5" fill="url(#gG)"/><circle cx="385.5" cy="87.2" r="2.5" fill="url(#gG)"/><circle cx="387.5" cy="84.9" r="2.5" fill="url(#gG)"/><circle cx="389.2" cy="88.3" r="2.5" fill="url(#gG)"/><circle cx="391.2" cy="76" r="2.5" fill="url(#gG)"/><circle cx="392.9" cy="82.9" r="2.5" fill="url(#gG)"/><circle cx="394.3" cy="85.7" r="2.5" fill="url(#gG)"/><circle cx="396.1" cy="83.7" r="2.5" fill="url(#gG)"/><circle cx="398.1" cy="85.5" r="2.5" fill="url(#gG)"/><circle cx="399.5" cy="86.25" r="2.5" fill="url(#gG)"/><circle cx="400.9" cy="87" r="2.5" fill="url(#gG)"/><circle cx="402.5" cy="84.8" r="2.5" fill="url(#gG)"/><circle cx="404.2" cy="88.1" r="2.5" fill="url(#gG)"/><circle cx="405.8" cy="90.3" r="2.5" fill="url(#gG)"/><circle cx="407.5" cy="92" r="2.5" fill="url(#gG)"/><circle cx="409.7" cy="84.8" r="2.5" fill="url(#gG)"/><circle cx="410.8" cy="89.8" r="2.5" fill="url(#gG)"/><circle cx="413" cy="93.1" r="2.5" fill="url(#gG)"/><circle cx="414.6" cy="92" r="2.5" fill="url(#gG)"/><circle cx="416.3" cy="97.5" r="2.5" fill="url(#gG)"/><circle cx="418.5" cy="99.1" r="2.5" fill="url(#gG)"/><circle cx="420.2" cy="98" r="2.5" fill="url(#gG)"/><circle cx="421.3" cy="99" r="2.5" fill="url(#gG)"/><circle cx="423.3" cy="106.9" r="2.5" fill="url(#gG)"/><circle cx="425.3" cy="104.2" r="2.5" fill="url(#gG)"/><circle cx="426.6" cy="102.6" r="2.5" fill="url(#gG)"/><circle cx="427.9" cy="101" r="2.5" fill="url(#gG)"/><circle cx="429.2" cy="105.6" r="2.5" fill="url(#gG)"/><circle cx="431.2" cy="108.9" r="2.5" fill="url(#gG)"/><circle cx="432.5" cy="114.8" r="2.5" fill="url(#gG)"/><circle cx="433.85" cy="114.15" r="2.5" fill="url(#gG)"/><circle cx="435.2" cy="113.5" r="2.5" fill="url(#gG)"/><circle cx="437.2" cy="116.1" r="2.5" fill="url(#gG)"/><circle cx="438.5" cy="123.4" r="2.5" fill="url(#gG)"/><circle cx="440.5" cy="122.7" r="2.5" fill="url(#gG)"/><circle cx="441.8" cy="126" r="2.5" fill="url(#gG)"/><circle cx="443.1" cy="128" r="2.5" fill="url(#gG)"/><circle cx="444.4" cy="130" r="2.5" fill="url(#gG)"/><circle cx="445.75" cy="129.35" r="2.5" fill="url(#gG)"/><circle cx="447.1" cy="128.7" r="2.5" fill="url(#gG)"/><circle cx="449.1" cy="135.3" r="2.5" fill="url(#gG)"/><circle cx="450.4" cy="134.3" r="2.5" fill="url(#gG)"/><circle cx="451.7" cy="133.3" r="2.5" fill="url(#gG)"/><circle cx="453" cy="134.3" r="2.5" fill="url(#gG)"/><circle cx="454.3" cy="135.3" r="2.5" fill="url(#gG)"/><circle cx="455.65" cy="139.9" r="2.5" fill="url(#gG)"/><circle cx="457" cy="144.5" r="2.5" fill="url(#gG)"/><circle cx="458.3" cy="139.9" r="2.5" fill="url(#gG)"/><circle cx="460.3" cy="143.2" r="2.5" fill="url(#gG)"/><circle cx="461.6" cy="139.6" r="2.5" fill="url(#gG)"/><circle cx="462.9" cy="136" r="2.5" fill="url(#gG)"/><circle cx="464.9" cy="137.3" r="2.5" fill="url(#gG)"/><circle cx="466.9" cy="139.3" r="2.5" fill="url(#gG)"/><circle cx="468.55" cy="139.95" r="2.5" fill="url(#gG)"/><circle cx="470.2" cy="140.6" r="2.5" fill="url(#gG)"/><circle cx="471.3" cy="141" r="2.5" fill="url(#gG)"/><circle cx="473.3" cy="137" r="2.5" fill="url(#gG)"/><circle cx="475.3" cy="133.7" r="2.5" fill="url(#gG)"/><circle cx="476.6" cy="136.65" r="2.5" fill="url(#gG)"/><circle cx="477.9" cy="139.6" r="2.5" fill="url(#gG)"/><circle cx="479.9" cy="135" r="2.5" fill="url(#gG)"/><circle cx="481.55" cy="133.35" r="2.5" fill="url(#gG)"/><circle cx="483.2" cy="131.7" r="2.5" fill="url(#gG)"/><circle cx="484.85" cy="133.7" r="2.5" fill="url(#gG)"/><circle cx="486.5" cy="135.7" r="2.5" fill="url(#gG)"/><circle cx="487.85" cy="133.35" r="2.5" fill="url(#gG)"/><circle cx="489.2" cy="131" r="2.5" fill="url(#gG)"/><circle cx="491.1" cy="125.1" r="2.5" fill="url(#gG)"/><circle cx="492.45" cy="126.75" r="2.5" fill="url(#gG)"/><circle cx="493.8" cy="128.4" r="2.5" fill="url(#gG)"/><circle cx="495.1" cy="125.1" r="2.5" fill="url(#gG)"/><circle cx="496.4" cy="121.8" r="2.5" fill="url(#gG)"/><circle cx="498.4" cy="124.4" r="2.5" fill="url(#gG)"/><circle cx="500.4" cy="117.2" r="2.5" fill="url(#gG)"/><circle cx="501.7" cy="117.5" r="2.5" fill="url(#gG)"/><circle cx="503" cy="117.8" r="2.5" fill="url(#gG)"/><circle cx="504.35" cy="117.5" r="2.5" fill="url(#gG)"/><circle cx="505.7" cy="117.2" r="2.5" fill="url(#gG)"/><circle cx="507.35" cy="119.5" r="2.5" fill="url(#gG)"/><circle cx="509" cy="121.8" r="2.5" fill="url(#gG)"/><circle cx="511" cy="112.5" r="2.5" fill="url(#gG)"/><circle cx="512.3" cy="115.5" r="2.5" fill="url(#gG)"/><circle cx="513.6" cy="118.5" r="2.5" fill="url(#gG)"/><circle cx="515.6" cy="123.1" r="2.5" fill="url(#gG)"/><circle cx="517.6" cy="121.8" r="2.5" fill="url(#gG)"/><circle cx="518.2" cy="105.9" r="2.5" fill="url(#gG)"/><circle cx="520.6" cy="116.4" r="2.5" fill="url(#gG)"/><circle cx="522" cy="113.1" r="2.5" fill="url(#gG)"/><circle cx="524" cy="125.7" r="2.5" fill="url(#gG)"/><circle cx="525.9" cy="121" r="2.5" fill="url(#gG)"/><circle cx="527.3" cy="117.1" r="2.5" fill="url(#gG)"/><circle cx="529.2" cy="107.2" r="2.5" fill="url(#gG)"/><circle cx="531.2" cy="117.7" r="2.5" fill="url(#gG)"/><circle cx="533.2" cy="127" r="2.5" fill="url(#gG)"/><circle cx="534.5" cy="121" r="2.5" fill="url(#gG)"/><circle cx="536.9" cy="118.4" r="2.5" fill="url(#gG)"/><circle cx="539.2" cy="121.7" r="2.5" fill="url(#gG)"/><circle cx="541.1" cy="123.7" r="2.5" fill="url(#gG)"/><circle cx="542.5" cy="128.3" r="2.5" fill="url(#gG)"/><circle cx="543.8" cy="140.9" r="2.5" fill="url(#gG)"/><circle cx="545.8" cy="131" r="2.5" fill="url(#gG)"/><circle cx="547.7" cy="133.6" r="2.5" fill="url(#gG)"/><circle cx="549.7" cy="136.9" r="2.5" fill="url(#gG)"/><circle cx="551.7" cy="139.5" r="2.5" fill="url(#gG)"/><circle cx="553.7" cy="139.9" r="2.5" fill="url(#gG)"/><circle cx="555.7" cy="136.2" r="2.5" fill="url(#gG)"/><circle cx="557.3" cy="138.2" r="2.5" fill="url(#gG)"/><path d="M379.6,51.4 L381.8,54.2 L383.8,60.5 L385.5,54.2 L387.7,55.8 L389.9,52 L391.5,47.6 L393.2,45.4 L394.8,46.5 L396.5,42.6 L398.7,40.4 L400.9,39.9 L402.5,38.2 L404.7,37.7 L406.9,36 L409.1,34.9 L411.3,36 L413.5,33.8 L415.7,33.8 L418,35.5 L420.2,33.8 L422.4,34.4 L423.85,34.3 L425.3,34.2 L427.25,35.55 L429.2,36.9 L431.2,37.55 L433.2,38.2 L435.2,38.2 L437.2,38.2 L438.5,36.2 L439.8,38.2 L441.1,40.2 L443.1,40.55 L445.1,40.9 L446.4,41.55 L447.7,42.2 L449.05,41.55 L450.4,40.9 L451.7,41.55 L453,42.2 L455,45.5 L456.65,45.8 L458.3,46.1 L459.65,46.45 L461,46.8 L462.3,50.1 L463.6,45.5 L464.9,46.8 L466.2,48.1 L467.55,50.1 L468.9,52.1 L470.1,50.5 L471.3,48.9 L472.65,50.2 L474,51.5 L475.65,52.15 L477.3,52.8 L478.95,54.45 L480.6,56.1 L481.9,55.15 L483.2,54.2 L484.55,54.85 L485.9,55.5 L487.8,59.4 L489.15,58.45 L490.5,57.5 L491.8,58.15 L493.1,58.8 L494.75,60.1 L496.4,61.4 L498.05,58.45 L499.7,55.5 L501.7,58.1 L503,60.1 L504.3,62.1 L505.65,61.45 L507,60.8 L508.3,60.45 L509.6,60.1 L511,65.4 L512.3,59.4 L514.3,74 L514.9,68.7 L516.3,67.3 L517,73.2 L518.9,74.6 L520.3,66.6 L521.6,73.9 L522.9,75.85 L524.2,77.8 L525.6,73.9 L527.5,77.8 L529,87.9 L530.3,85.95 L531.6,84 L533.25,84.3 L534.9,84.6 L536.2,84.3 L537.5,84 L538.2,89.2 L540.5,99.2 L541.8,113.8 L543.8,109.8 L545.8,105.9 L547.7,121.7 L549.7,125.4 L551.4,111.8 L553,129.6 L554.6,125.7 L556.7,118" fill="none" stroke="#c02828" stroke-width="0.9"/><circle cx="379.6" cy="51.4" r="2.5" fill="url(#gR)"/><circle cx="381.8" cy="54.2" r="2.5" fill="url(#gR)"/><circle cx="383.8" cy="60.5" r="2.5" fill="url(#gR)"/><circle cx="385.5" cy="54.2" r="2.5" fill="url(#gR)"/><circle cx="387.7" cy="55.8" r="2.5" fill="url(#gR)"/><circle cx="389.9" cy="52" r="2.5" fill="url(#gR)"/><circle cx="391.5" cy="47.6" r="2.5" fill="url(#gR)"/><circle cx="393.2" cy="45.4" r="2.5" fill="url(#gR)"/><circle cx="394.8" cy="46.5" r="2.5" fill="url(#gR)"/><circle cx="396.5" cy="42.6" r="2.5" fill="url(#gR)"/><circle cx="398.7" cy="40.4" r="2.5" fill="url(#gR)"/><circle cx="400.9" cy="39.9" r="2.5" fill="url(#gR)"/><circle cx="402.5" cy="38.2" r="2.5" fill="url(#gR)"/><circle cx="404.7" cy="37.7" r="2.5" fill="url(#gR)"/><circle cx="406.9" cy="36" r="2.5" fill="url(#gR)"/><circle cx="409.1" cy="34.9" r="2.5" fill="url(#gR)"/><circle cx="411.3" cy="36" r="2.5" fill="url(#gR)"/><circle cx="413.5" cy="33.8" r="2.5" fill="url(#gR)"/><circle cx="415.7" cy="33.8" r="2.5" fill="url(#gR)"/><circle cx="418" cy="35.5" r="2.5" fill="url(#gR)"/><circle cx="420.2" cy="33.8" r="2.5" fill="url(#gR)"/><circle cx="422.4" cy="34.4" r="2.5" fill="url(#gR)"/><circle cx="423.85" cy="34.3" r="2.5" fill="url(#gR)"/><circle cx="425.3" cy="34.2" r="2.5" fill="url(#gR)"/><circle cx="427.25" cy="35.55" r="2.5" fill="url(#gR)"/><circle cx="429.2" cy="36.9" r="2.5" fill="url(#gR)"/><circle cx="431.2" cy="37.55" r="2.5" fill="url(#gR)"/><circle cx="433.2" cy="38.2" r="2.5" fill="url(#gR)"/><circle cx="435.2" cy="38.2" r="2.5" fill="url(#gR)"/><circle cx="437.2" cy="38.2" r="2.5" fill="url(#gR)"/><circle cx="438.5" cy="36.2" r="2.5" fill="url(#gR)"/><circle cx="439.8" cy="38.2" r="2.5" fill="url(#gR)"/><circle cx="441.1" cy="40.2" r="2.5" fill="url(#gR)"/><circle cx="443.1" cy="40.55" r="2.5" fill="url(#gR)"/><circle cx="445.1" cy="40.9" r="2.5" fill="url(#gR)"/><circle cx="446.4" cy="41.55" r="2.5" fill="url(#gR)"/><circle cx="447.7" cy="42.2" r="2.5" fill="url(#gR)"/><circle cx="449.05" cy="41.55" r="2.5" fill="url(#gR)"/><circle cx="450.4" cy="40.9" r="2.5" fill="url(#gR)"/><circle cx="451.7" cy="41.55" r="2.5" fill="url(#gR)"/><circle cx="453" cy="42.2" r="2.5" fill="url(#gR)"/><circle cx="455" cy="45.5" r="2.5" fill="url(#gR)"/><circle cx="456.65" cy="45.8" r="2.5" fill="url(#gR)"/><circle cx="458.3" cy="46.1" r="2.5" fill="url(#gR)"/><circle cx="459.65" cy="46.45" r="2.5" fill="url(#gR)"/><circle cx="461" cy="46.8" r="2.5" fill="url(#gR)"/><circle cx="462.3" cy="50.1" r="2.5" fill="url(#gR)"/><circle cx="463.6" cy="45.5" r="2.5" fill="url(#gR)"/><circle cx="464.9" cy="46.8" r="2.5" fill="url(#gR)"/><circle cx="466.2" cy="48.1" r="2.5" fill="url(#gR)"/><circle cx="467.55" cy="50.1" r="2.5" fill="url(#gR)"/><circle cx="468.9" cy="52.1" r="2.5" fill="url(#gR)"/><circle cx="470.1" cy="50.5" r="2.5" fill="url(#gR)"/><circle cx="471.3" cy="48.9" r="2.5" fill="url(#gR)"/><circle cx="472.65" cy="50.2" r="2.5" fill="url(#gR)"/><circle cx="474" cy="51.5" r="2.5" fill="url(#gR)"/><circle cx="475.65" cy="52.15" r="2.5" fill="url(#gR)"/><circle cx="477.3" cy="52.8" r="2.5" fill="url(#gR)"/><circle cx="478.95" cy="54.45" r="2.5" fill="url(#gR)"/><circle cx="480.6" cy="56.1" r="2.5" fill="url(#gR)"/><circle cx="481.9" cy="55.15" r="2.5" fill="url(#gR)"/><circle cx="483.2" cy="54.2" r="2.5" fill="url(#gR)"/><circle cx="484.55" cy="54.85" r="2.5" fill="url(#gR)"/><circle cx="485.9" cy="55.5" r="2.5" fill="url(#gR)"/><circle cx="487.8" cy="59.4" r="2.5" fill="url(#gR)"/><circle cx="489.15" cy="58.45" r="2.5" fill="url(#gR)"/><circle cx="490.5" cy="57.5" r="2.5" fill="url(#gR)"/><circle cx="491.8" cy="58.15" r="2.5" fill="url(#gR)"/><circle cx="493.1" cy="58.8" r="2.5" fill="url(#gR)"/><circle cx="494.75" cy="60.1" r="2.5" fill="url(#gR)"/><circle cx="496.4" cy="61.4" r="2.5" fill="url(#gR)"/><circle cx="498.05" cy="58.45" r="2.5" fill="url(#gR)"/><circle cx="499.7" cy="55.5" r="2.5" fill="url(#gR)"/><circle cx="501.7" cy="58.1" r="2.5" fill="url(#gR)"/><circle cx="503" cy="60.1" r="2.5" fill="url(#gR)"/><circle cx="504.3" cy="62.1" r="2.5" fill="url(#gR)"/><circle cx="505.65" cy="61.45" r="2.5" fill="url(#gR)"/><circle cx="507" cy="60.8" r="2.5" fill="url(#gR)"/><circle cx="508.3" cy="60.45" r="2.5" fill="url(#gR)"/><circle cx="509.6" cy="60.1" r="2.5" fill="url(#gR)"/><circle cx="511" cy="65.4" r="2.5" fill="url(#gR)"/><circle cx="512.3" cy="59.4" r="2.5" fill="url(#gR)"/><circle cx="514.3" cy="74" r="2.5" fill="url(#gR)"/><circle cx="514.9" cy="68.7" r="2.5" fill="url(#gR)"/><circle cx="516.3" cy="67.3" r="2.5" fill="url(#gR)"/><circle cx="517" cy="73.2" r="2.5" fill="url(#gR)"/><circle cx="518.9" cy="74.6" r="2.5" fill="url(#gR)"/><circle cx="520.3" cy="66.6" r="2.5" fill="url(#gR)"/><circle cx="521.6" cy="73.9" r="2.5" fill="url(#gR)"/><circle cx="522.9" cy="75.85" r="2.5" fill="url(#gR)"/><circle cx="524.2" cy="77.8" r="2.5" fill="url(#gR)"/><circle cx="525.6" cy="73.9" r="2.5" fill="url(#gR)"/><circle cx="527.5" cy="77.8" r="2.5" fill="url(#gR)"/><circle cx="529" cy="87.9" r="2.5" fill="url(#gR)"/><circle cx="530.3" cy="85.95" r="2.5" fill="url(#gR)"/><circle cx="531.6" cy="84" r="2.5" fill="url(#gR)"/><circle cx="533.25" cy="84.3" r="2.5" fill="url(#gR)"/><circle cx="534.9" cy="84.6" r="2.5" fill="url(#gR)"/><circle cx="536.2" cy="84.3" r="2.5" fill="url(#gR)"/><circle cx="537.5" cy="84" r="2.5" fill="url(#gR)"/><circle cx="538.2" cy="89.2" r="2.5" fill="url(#gR)"/><circle cx="540.5" cy="99.2" r="2.5" fill="url(#gR)"/><circle cx="541.8" cy="113.8" r="2.5" fill="url(#gR)"/><circle cx="543.8" cy="109.8" r="2.5" fill="url(#gR)"/><circle cx="545.8" cy="105.9" r="2.5" fill="url(#gR)"/><circle cx="547.7" cy="121.7" r="2.5" fill="url(#gR)"/><circle cx="549.7" cy="125.4" r="2.5" fill="url(#gR)"/><circle cx="551.4" cy="111.8" r="2.5" fill="url(#gR)"/><circle cx="553" cy="129.6" r="2.5" fill="url(#gR)"/><circle cx="554.6" cy="125.7" r="2.5" fill="url(#gR)"/><circle cx="556.7" cy="118" r="2.5" fill="url(#gR)"/><path d="M79.8,400.4 L83.99,400.4 L88.18,400.4 L92.37,400.4 L96.56,400.4 L100.75,400.4 L104.94,400.4 L109.13,400.4 L113.32,400.4 L117.51,400.4 L121.7,400.4 L125.89,400.4 L130.08,400.4 L134.27,400.4 L138.46,399.6 L142.65,400.4 L146.84,399.6 L151.03,400.4 L155.22,397.3 L159.41,400.4 L163.6,396.4 L167.79,397.3 L171.98,398.8 L176.17,400.4 L180.36,400.4 L184.55,400.4 L188.74,398.8 L192.93,398.8 L197.12,400.4 L201.31,398.8 L205.5,398.8 L209.69,400.4 L213.88,400.4 L218.07,400.4 L222.26,400.4 L226.45,400.4 L230.64,400.4 L234.83,400.4 L239.02,400.4 L243.21,400.4 L247.4,400.4 L251.59,400.4 L255.78,400.4 L259.97,400.4 L264.16,400.4 L268.35,400.4 L272.54,400.4 L276.73,400.4 L280.92,400.4 L285.11,400.4 L289.3,400.4" fill="none" stroke="#e03030" stroke-width="0.8"/><circle cx="79.8" cy="400.4" r="2.6" fill="url(#gG)"/><circle cx="83.99" cy="400.4" r="2.6" fill="url(#gG)"/><circle cx="88.18" cy="400.4" r="2.6" fill="url(#gG)"/><circle cx="92.37" cy="400.4" r="2.6" fill="url(#gG)"/><circle cx="96.56" cy="400.4" r="2.6" fill="url(#gG)"/><circle cx="100.75" cy="400.4" r="2.6" fill="url(#gG)"/><circle cx="104.94" cy="400.4" r="2.6" fill="url(#gG)"/><circle cx="109.13" cy="400.4" r="2.6" fill="url(#gG)"/><circle cx="113.32" cy="400.4" r="2.6" fill="url(#gG)"/><circle cx="117.51" cy="400.4" r="2.6" fill="url(#gG)"/><circle cx="121.7" cy="400.4" r="2.6" fill="url(#gG)"/><circle cx="125.89" cy="400.4" r="2.6" fill="url(#gG)"/><circle cx="130.08" cy="400.4" r="2.6" fill="url(#gG)"/><circle cx="134.27" cy="400.4" r="2.6" fill="url(#gG)"/><circle cx="138.46" cy="399.6" r="2.6" fill="url(#gG)"/><circle cx="142.65" cy="400.4" r="2.6" fill="url(#gG)"/><circle cx="146.84" cy="399.6" r="2.6" fill="url(#gG)"/><circle cx="151.03" cy="400.4" r="2.6" fill="url(#gG)"/><circle cx="155.22" cy="397.3" r="2.6" fill="url(#gG)"/><circle cx="159.41" cy="400.4" r="2.6" fill="url(#gG)"/><circle cx="163.6" cy="396.4" r="2.6" fill="url(#gG)"/><circle cx="167.79" cy="397.3" r="2.6" fill="url(#gG)"/><circle cx="171.98" cy="398.8" r="2.6" fill="url(#gG)"/><circle cx="176.17" cy="400.4" r="2.6" fill="url(#gG)"/><circle cx="180.36" cy="400.4" r="2.6" fill="url(#gG)"/><circle cx="184.55" cy="400.4" r="2.6" fill="url(#gG)"/><circle cx="188.74" cy="398.8" r="2.6" fill="url(#gG)"/><circle cx="192.93" cy="398.8" r="2.6" fill="url(#gG)"/><circle cx="197.12" cy="400.4" r="2.6" fill="url(#gG)"/><circle cx="201.31" cy="398.8" r="2.6" fill="url(#gG)"/><circle cx="205.5" cy="398.8" r="2.6" fill="url(#gG)"/><circle cx="209.69" cy="400.4" r="2.6" fill="url(#gG)"/><circle cx="213.88" cy="400.4" r="2.6" fill="url(#gG)"/><circle cx="218.07" cy="400.4" r="2.6" fill="url(#gG)"/><circle cx="222.26" cy="400.4" r="2.6" fill="url(#gG)"/><circle cx="226.45" cy="400.4" r="2.6" fill="url(#gG)"/><circle cx="230.64" cy="400.4" r="2.6" fill="url(#gG)"/><circle cx="234.83" cy="400.4" r="2.6" fill="url(#gG)"/><circle cx="239.02" cy="400.4" r="2.6" fill="url(#gG)"/><circle cx="243.21" cy="400.4" r="2.6" fill="url(#gG)"/><circle cx="247.4" cy="400.4" r="2.6" fill="url(#gG)"/><circle cx="251.59" cy="400.4" r="2.6" fill="url(#gG)"/><circle cx="255.78" cy="400.4" r="2.6" fill="url(#gG)"/><circle cx="259.97" cy="400.4" r="2.6" fill="url(#gG)"/><circle cx="264.16" cy="400.4" r="2.6" fill="url(#gG)"/><circle cx="268.35" cy="400.4" r="2.6" fill="url(#gG)"/><circle cx="272.54" cy="400.4" r="2.6" fill="url(#gG)"/><circle cx="276.73" cy="400.4" r="2.6" fill="url(#gG)"/><circle cx="280.92" cy="400.4" r="2.6" fill="url(#gG)"/><circle cx="285.11" cy="400.4" r="2.6" fill="url(#gG)"/><circle cx="289.3" cy="400.4" r="2.6" fill="url(#gG)"/><path d="M79.8,400.2 L83.99,400 L88.18,398.5 L92.37,399.5 L96.56,399.5 L100.75,398.3 L104.94,399 L109.13,397.5 L113.32,396.2 L117.51,395.3 L121.7,394.2 L125.89,393 L130.08,377.7 L134.27,376.7 L138.46,339 L142.65,302.2 L146.84,297.6 L151.03,312.4 L155.22,281.7 L159.41,267.1 L163.6,266.4 L167.79,273.2 L171.98,278.2 L176.17,287.5 L180.36,285.7 L184.55,318.3 L188.74,327.5 L192.93,353 L197.12,357.4 L201.31,372.8 L205.5,362.4 L209.69,373.9 L213.88,380.9 L218.07,387.8 L222.26,393 L226.45,395.9 L230.64,395.9 L234.83,393.9 L239.02,396.6 L243.21,398.5 L247.4,399.5 L251.59,400 L255.78,400 L259.97,400.2 L264.16,400.2 L268.35,400.4 L272.54,400.4 L276.73,400.4 L280.92,400.4 L285.11,400.4 L289.3,400.4" fill="none" stroke="#000" stroke-width="0.9"/><circle cx="79.8" cy="400.2" r="2.6" fill="url(#gK)"/><circle cx="83.99" cy="400" r="2.6" fill="url(#gK)"/><circle cx="88.18" cy="398.5" r="2.6" fill="url(#gK)"/><circle cx="92.37" cy="399.5" r="2.6" fill="url(#gK)"/><circle cx="96.56" cy="399.5" r="2.6" fill="url(#gK)"/><circle cx="100.75" cy="398.3" r="2.6" fill="url(#gK)"/><circle cx="104.94" cy="399" r="2.6" fill="url(#gK)"/><circle cx="109.13" cy="397.5" r="2.6" fill="url(#gK)"/><circle cx="113.32" cy="396.2" r="2.6" fill="url(#gK)"/><circle cx="117.51" cy="395.3" r="2.6" fill="url(#gK)"/><circle cx="121.7" cy="394.2" r="2.6" fill="url(#gK)"/><circle cx="125.89" cy="393" r="2.6" fill="url(#gK)"/><circle cx="130.08" cy="377.7" r="2.6" fill="url(#gK)"/><circle cx="134.27" cy="376.7" r="2.6" fill="url(#gK)"/><circle cx="138.46" cy="339" r="2.6" fill="url(#gK)"/><circle cx="142.65" cy="302.2" r="2.6" fill="url(#gK)"/><circle cx="146.84" cy="297.6" r="2.6" fill="url(#gK)"/><circle cx="151.03" cy="312.4" r="2.6" fill="url(#gK)"/><circle cx="155.22" cy="281.7" r="2.6" fill="url(#gK)"/><circle cx="159.41" cy="267.1" r="2.6" fill="url(#gK)"/><circle cx="163.6" cy="266.4" r="2.6" fill="url(#gK)"/><circle cx="167.79" cy="273.2" r="2.6" fill="url(#gK)"/><circle cx="171.98" cy="278.2" r="2.6" fill="url(#gK)"/><circle cx="176.17" cy="287.5" r="2.6" fill="url(#gK)"/><circle cx="180.36" cy="285.7" r="2.6" fill="url(#gK)"/><circle cx="184.55" cy="318.3" r="2.6" fill="url(#gK)"/><circle cx="188.74" cy="327.5" r="2.6" fill="url(#gK)"/><circle cx="192.93" cy="353" r="2.6" fill="url(#gK)"/><circle cx="197.12" cy="357.4" r="2.6" fill="url(#gK)"/><circle cx="201.31" cy="372.8" r="2.6" fill="url(#gK)"/><circle cx="205.5" cy="362.4" r="2.6" fill="url(#gK)"/><circle cx="209.69" cy="373.9" r="2.6" fill="url(#gK)"/><circle cx="213.88" cy="380.9" r="2.6" fill="url(#gK)"/><circle cx="218.07" cy="387.8" r="2.6" fill="url(#gK)"/><circle cx="222.26" cy="393" r="2.6" fill="url(#gK)"/><circle cx="226.45" cy="395.9" r="2.6" fill="url(#gK)"/><circle cx="230.64" cy="395.9" r="2.6" fill="url(#gK)"/><circle cx="234.83" cy="393.9" r="2.6" fill="url(#gK)"/><circle cx="239.02" cy="396.6" r="2.6" fill="url(#gK)"/><circle cx="243.21" cy="398.5" r="2.6" fill="url(#gK)"/><circle cx="247.4" cy="399.5" r="2.6" fill="url(#gK)"/><circle cx="251.59" cy="400" r="2.6" fill="url(#gK)"/><circle cx="255.78" cy="400" r="2.6" fill="url(#gK)"/><circle cx="259.97" cy="400.2" r="2.6" fill="url(#gK)"/><circle cx="264.16" cy="400.2" r="2.6" fill="url(#gK)"/><circle cx="268.35" cy="400.4" r="2.6" fill="url(#gK)"/><circle cx="272.54" cy="400.4" r="2.6" fill="url(#gK)"/><circle cx="276.73" cy="400.4" r="2.6" fill="url(#gK)"/><circle cx="280.92" cy="400.4" r="2.6" fill="url(#gK)"/><circle cx="285.11" cy="400.4" r="2.6" fill="url(#gK)"/><circle cx="289.3" cy="400.4" r="2.6" fill="url(#gK)"/><path d="M79.8,400.6 L83.99,400.6 L88.18,400.6 L92.37,400.6 L96.56,400.6 L100.75,400.6 L104.94,400.6 L109.13,400.6 L113.32,400.6 L117.51,400.6 L121.7,400.6 L125.89,400.6 L130.08,400.6 L134.27,400.6 L138.46,399.6 L142.65,400.6 L146.84,399.6 L151.03,400.6 L155.22,400.6 L159.41,400.6 L163.6,400.6 L167.79,398.9 L171.98,400.6 L176.17,400.6 L180.36,400.6 L184.55,400.6 L188.74,400.6 L192.93,400.6 L197.12,400.6 L201.31,399.2 L205.5,400.6 L209.69,400.6 L213.88,400.6 L218.07,400.6 L222.26,400.6 L226.45,400.6 L230.64,400.6 L234.83,400.6 L239.02,400.6 L243.21,400.6 L247.4,400.6 L251.59,400.6 L255.78,400.6 L259.97,400.6 L264.16,400.6 L268.35,400.6 L272.54,400.6 L276.73,400.6 L280.92,400.6 L285.11,400.6 L289.3,400.6" fill="none" stroke="#3040c0" stroke-width="0.8"/><circle cx="79.8" cy="400.6" r="2.6" fill="url(#gR)"/><circle cx="83.99" cy="400.6" r="2.6" fill="url(#gR)"/><circle cx="88.18" cy="400.6" r="2.6" fill="url(#gR)"/><circle cx="92.37" cy="400.6" r="2.6" fill="url(#gR)"/><circle cx="96.56" cy="400.6" r="2.6" fill="url(#gR)"/><circle cx="100.75" cy="400.6" r="2.6" fill="url(#gR)"/><circle cx="104.94" cy="400.6" r="2.6" fill="url(#gR)"/><circle cx="109.13" cy="400.6" r="2.6" fill="url(#gR)"/><circle cx="113.32" cy="400.6" r="2.6" fill="url(#gR)"/><circle cx="117.51" cy="400.6" r="2.6" fill="url(#gR)"/><circle cx="121.7" cy="400.6" r="2.6" fill="url(#gR)"/><circle cx="125.89" cy="400.6" r="2.6" fill="url(#gR)"/><circle cx="130.08" cy="400.6" r="2.6" fill="url(#gR)"/><circle cx="134.27" cy="400.6" r="2.6" fill="url(#gR)"/><circle cx="138.46" cy="399.6" r="2.6" fill="url(#gR)"/><circle cx="142.65" cy="400.6" r="2.6" fill="url(#gR)"/><circle cx="146.84" cy="399.6" r="2.6" fill="url(#gR)"/><circle cx="151.03" cy="400.6" r="2.6" fill="url(#gR)"/><circle cx="155.22" cy="400.6" r="2.6" fill="url(#gR)"/><circle cx="159.41" cy="400.6" r="2.6" fill="url(#gR)"/><circle cx="163.6" cy="400.6" r="2.6" fill="url(#gR)"/><circle cx="167.79" cy="398.9" r="2.6" fill="url(#gR)"/><circle cx="171.98" cy="400.6" r="2.6" fill="url(#gR)"/><circle cx="176.17" cy="400.6" r="2.6" fill="url(#gR)"/><circle cx="180.36" cy="400.6" r="2.6" fill="url(#gR)"/><circle cx="184.55" cy="400.6" r="2.6" fill="url(#gR)"/><circle cx="188.74" cy="400.6" r="2.6" fill="url(#gR)"/><circle cx="192.93" cy="400.6" r="2.6" fill="url(#gR)"/><circle cx="197.12" cy="400.6" r="2.6" fill="url(#gR)"/><circle cx="201.31" cy="399.2" r="2.6" fill="url(#gR)"/><circle cx="205.5" cy="400.6" r="2.6" fill="url(#gR)"/><circle cx="209.69" cy="400.6" r="2.6" fill="url(#gR)"/><circle cx="213.88" cy="400.6" r="2.6" fill="url(#gR)"/><circle cx="218.07" cy="400.6" r="2.6" fill="url(#gR)"/><circle cx="222.26" cy="400.6" r="2.6" fill="url(#gR)"/><circle cx="226.45" cy="400.6" r="2.6" fill="url(#gR)"/><circle cx="230.64" cy="400.6" r="2.6" fill="url(#gR)"/><circle cx="234.83" cy="400.6" r="2.6" fill="url(#gR)"/><circle cx="239.02" cy="400.6" r="2.6" fill="url(#gR)"/><circle cx="243.21" cy="400.6" r="2.6" fill="url(#gR)"/><circle cx="247.4" cy="400.6" r="2.6" fill="url(#gR)"/><circle cx="251.59" cy="400.6" r="2.6" fill="url(#gR)"/><circle cx="255.78" cy="400.6" r="2.6" fill="url(#gR)"/><circle cx="259.97" cy="400.6" r="2.6" fill="url(#gR)"/><circle cx="264.16" cy="400.6" r="2.6" fill="url(#gR)"/><circle cx="268.35" cy="400.6" r="2.6" fill="url(#gR)"/><circle cx="272.54" cy="400.6" r="2.6" fill="url(#gR)"/><circle cx="276.73" cy="400.6" r="2.6" fill="url(#gR)"/><circle cx="280.92" cy="400.6" r="2.6" fill="url(#gR)"/><circle cx="285.11" cy="400.6" r="2.6" fill="url(#gR)"/><circle cx="289.3" cy="400.6" r="2.6" fill="url(#gR)"/><path d="M371.8,257.6 L375.96,257.6 L380.12,257.6 L384.29,257.6 L388.45,257.6 L392.61,257.6 L396.78,257.6 L400.94,257.6 L405.1,257.6 L409.26,257.6 L413.43,257.6 L417.59,257.6 L421.75,257.6 L425.91,257.6 L430.07,262.2 L434.24,257.6 L438.4,259.9 L442.56,260.7 L446.73,265 L450.89,257.6 L455.05,266.3 L459.21,264.7 L463.38,260.3 L467.54,257.6 L471.7,257.6 L475.86,257.6 L480.02,261.7 L484.19,264 L488.35,257.6 L492.51,257.6 L496.68,265.7 L500.84,257.6 L505,257.6 L509.16,257.6 L513.33,257.6 L517.49,257.6 L521.65,257.6 L525.81,257.6 L529.98,257.6 L534.14,257.6 L538.3,257.6 L542.46,257.6 L546.62,257.6 L550.79,257.6 L554.95,257.6 L559.11,257.6 L563.27,257.6 L567.44,257.6 L571.6,257.6 L575.76,257.6 L579.92,257.6" fill="none" stroke="#000" stroke-width="0.8"/><circle cx="371.8" cy="257.6" r="2.6" fill="url(#gG)"/><circle cx="375.96" cy="257.6" r="2.6" fill="url(#gG)"/><circle cx="380.12" cy="257.6" r="2.6" fill="url(#gG)"/><circle cx="384.29" cy="257.6" r="2.6" fill="url(#gG)"/><circle cx="388.45" cy="257.6" r="2.6" fill="url(#gG)"/><circle cx="392.61" cy="257.6" r="2.6" fill="url(#gG)"/><circle cx="396.78" cy="257.6" r="2.6" fill="url(#gG)"/><circle cx="400.94" cy="257.6" r="2.6" fill="url(#gG)"/><circle cx="405.1" cy="257.6" r="2.6" fill="url(#gG)"/><circle cx="409.26" cy="257.6" r="2.6" fill="url(#gG)"/><circle cx="413.43" cy="257.6" r="2.6" fill="url(#gG)"/><circle cx="417.59" cy="257.6" r="2.6" fill="url(#gG)"/><circle cx="421.75" cy="257.6" r="2.6" fill="url(#gG)"/><circle cx="425.91" cy="257.6" r="2.6" fill="url(#gG)"/><circle cx="430.07" cy="262.2" r="2.6" fill="url(#gG)"/><circle cx="434.24" cy="257.6" r="2.6" fill="url(#gG)"/><circle cx="438.4" cy="259.9" r="2.6" fill="url(#gG)"/><circle cx="442.56" cy="260.7" r="2.6" fill="url(#gG)"/><circle cx="446.73" cy="265" r="2.6" fill="url(#gG)"/><circle cx="450.89" cy="257.6" r="2.6" fill="url(#gG)"/><circle cx="455.05" cy="266.3" r="2.6" fill="url(#gG)"/><circle cx="459.21" cy="264.7" r="2.6" fill="url(#gG)"/><circle cx="463.38" cy="260.3" r="2.6" fill="url(#gG)"/><circle cx="467.54" cy="257.6" r="2.6" fill="url(#gG)"/><circle cx="471.7" cy="257.6" r="2.6" fill="url(#gG)"/><circle cx="475.86" cy="257.6" r="2.6" fill="url(#gG)"/><circle cx="480.02" cy="261.7" r="2.6" fill="url(#gG)"/><circle cx="484.19" cy="264" r="2.6" fill="url(#gG)"/><circle cx="488.35" cy="257.6" r="2.6" fill="url(#gG)"/><circle cx="492.51" cy="257.6" r="2.6" fill="url(#gG)"/><circle cx="496.68" cy="265.7" r="2.6" fill="url(#gG)"/><circle cx="500.84" cy="257.6" r="2.6" fill="url(#gG)"/><circle cx="505" cy="257.6" r="2.6" fill="url(#gG)"/><circle cx="509.16" cy="257.6" r="2.6" fill="url(#gG)"/><circle cx="513.33" cy="257.6" r="2.6" fill="url(#gG)"/><circle cx="517.49" cy="257.6" r="2.6" fill="url(#gG)"/><circle cx="521.65" cy="257.6" r="2.6" fill="url(#gG)"/><circle cx="525.81" cy="257.6" r="2.6" fill="url(#gG)"/><circle cx="529.98" cy="257.6" r="2.6" fill="url(#gG)"/><circle cx="534.14" cy="257.6" r="2.6" fill="url(#gG)"/><circle cx="538.3" cy="257.6" r="2.6" fill="url(#gG)"/><circle cx="542.46" cy="257.6" r="2.6" fill="url(#gG)"/><circle cx="546.62" cy="257.6" r="2.6" fill="url(#gG)"/><circle cx="550.79" cy="257.6" r="2.6" fill="url(#gG)"/><circle cx="554.95" cy="257.6" r="2.6" fill="url(#gG)"/><circle cx="559.11" cy="257.6" r="2.6" fill="url(#gG)"/><circle cx="563.27" cy="257.6" r="2.6" fill="url(#gG)"/><circle cx="567.44" cy="257.6" r="2.6" fill="url(#gG)"/><circle cx="571.6" cy="257.6" r="2.6" fill="url(#gG)"/><circle cx="575.76" cy="257.6" r="2.6" fill="url(#gG)"/><circle cx="579.92" cy="257.6" r="2.6" fill="url(#gG)"/><path d="M371.8,257.3 L375.96,257.3 L380.12,257.3 L384.29,257.3 L388.45,257.3 L392.61,257.3 L396.78,257.3 L400.94,257.3 L405.1,257.3 L409.26,257.3 L413.43,257.3 L417.59,257.3 L421.75,257.3 L425.91,257.3 L430.07,262.2 L434.24,257.3 L438.4,259.9 L442.56,260.7 L446.73,257.3 L450.89,257.3 L455.05,257.3 L459.21,259.9 L463.38,257.3 L467.54,257.3 L471.7,257.3 L475.86,257.3 L480.02,257.3 L484.19,257.3 L488.35,257.3 L492.51,269 L496.68,257.3 L500.84,257.3 L505,257.3 L509.16,257.3 L513.33,257.3 L517.49,257.3 L521.65,257.3 L525.81,257.3 L529.98,257.3 L534.14,257.3 L538.3,257.3 L542.46,257.3 L546.62,257.3 L550.79,257.3 L554.95,257.3 L559.11,257.3 L563.27,257.3 L567.44,257.3 L571.6,257.3 L575.76,257.3 L579.92,257.3" fill="none" stroke="#c02828" stroke-width="0.9"/><circle cx="371.8" cy="257.3" r="2.6" fill="url(#gR)"/><circle cx="375.96" cy="257.3" r="2.6" fill="url(#gR)"/><circle cx="380.12" cy="257.3" r="2.6" fill="url(#gR)"/><circle cx="384.29" cy="257.3" r="2.6" fill="url(#gR)"/><circle cx="388.45" cy="257.3" r="2.6" fill="url(#gR)"/><circle cx="392.61" cy="257.3" r="2.6" fill="url(#gR)"/><circle cx="396.78" cy="257.3" r="2.6" fill="url(#gR)"/><circle cx="400.94" cy="257.3" r="2.6" fill="url(#gR)"/><circle cx="405.1" cy="257.3" r="2.6" fill="url(#gR)"/><circle cx="409.26" cy="257.3" r="2.6" fill="url(#gR)"/><circle cx="413.43" cy="257.3" r="2.6" fill="url(#gR)"/><circle cx="417.59" cy="257.3" r="2.6" fill="url(#gR)"/><circle cx="421.75" cy="257.3" r="2.6" fill="url(#gR)"/><circle cx="425.91" cy="257.3" r="2.6" fill="url(#gR)"/><circle cx="430.07" cy="262.2" r="2.6" fill="url(#gR)"/><circle cx="434.24" cy="257.3" r="2.6" fill="url(#gR)"/><circle cx="438.4" cy="259.9" r="2.6" fill="url(#gR)"/><circle cx="442.56" cy="260.7" r="2.6" fill="url(#gR)"/><circle cx="446.73" cy="257.3" r="2.6" fill="url(#gR)"/><circle cx="450.89" cy="257.3" r="2.6" fill="url(#gR)"/><circle cx="455.05" cy="257.3" r="2.6" fill="url(#gR)"/><circle cx="459.21" cy="259.9" r="2.6" fill="url(#gR)"/><circle cx="463.38" cy="257.3" r="2.6" fill="url(#gR)"/><circle cx="467.54" cy="257.3" r="2.6" fill="url(#gR)"/><circle cx="471.7" cy="257.3" r="2.6" fill="url(#gR)"/><circle cx="475.86" cy="257.3" r="2.6" fill="url(#gR)"/><circle cx="480.02" cy="257.3" r="2.6" fill="url(#gR)"/><circle cx="484.19" cy="257.3" r="2.6" fill="url(#gR)"/><circle cx="488.35" cy="257.3" r="2.6" fill="url(#gR)"/><circle cx="492.51" cy="269" r="2.6" fill="url(#gR)"/><circle cx="496.68" cy="257.3" r="2.6" fill="url(#gR)"/><circle cx="500.84" cy="257.3" r="2.6" fill="url(#gR)"/><circle cx="505" cy="257.3" r="2.6" fill="url(#gR)"/><circle cx="509.16" cy="257.3" r="2.6" fill="url(#gR)"/><circle cx="513.33" cy="257.3" r="2.6" fill="url(#gR)"/><circle cx="517.49" cy="257.3" r="2.6" fill="url(#gR)"/><circle cx="521.65" cy="257.3" r="2.6" fill="url(#gR)"/><circle cx="525.81" cy="257.3" r="2.6" fill="url(#gR)"/><circle cx="529.98" cy="257.3" r="2.6" fill="url(#gR)"/><circle cx="534.14" cy="257.3" r="2.6" fill="url(#gR)"/><circle cx="538.3" cy="257.3" r="2.6" fill="url(#gR)"/><circle cx="542.46" cy="257.3" r="2.6" fill="url(#gR)"/><circle cx="546.62" cy="257.3" r="2.6" fill="url(#gR)"/><circle cx="550.79" cy="257.3" r="2.6" fill="url(#gR)"/><circle cx="554.95" cy="257.3" r="2.6" fill="url(#gR)"/><circle cx="559.11" cy="257.3" r="2.6" fill="url(#gR)"/><circle cx="563.27" cy="257.3" r="2.6" fill="url(#gR)"/><circle cx="567.44" cy="257.3" r="2.6" fill="url(#gR)"/><circle cx="571.6" cy="257.3" r="2.6" fill="url(#gR)"/><circle cx="575.76" cy="257.3" r="2.6" fill="url(#gR)"/><circle cx="579.92" cy="257.3" r="2.6" fill="url(#gR)"/>
<line x1="212.1" y1="41.6" x2="231.2" y2="41.6" stroke="#000" stroke-width="1"/><circle cx="221.6" cy="41.6" r="2.5" fill="url(#gK)"/><text x="232.2" y="45.8" font-size="12" text-anchor="start" >Dust Air</text><line x1="212.1" y1="51.6" x2="231.2" y2="51.6" stroke="#c85050" stroke-width="1"/><circle cx="221.6" cy="51.6" r="2.5" fill="url(#gG)"/><text x="232.2" y="55" font-size="11" text-anchor="start" >Filter</text><line x1="212.1" y1="61.4" x2="231.2" y2="61.4" stroke="#3a4a98" stroke-width="1"/><circle cx="221.6" cy="61.4" r="2.5" fill="url(#gR)"/><text x="232.2" y="64.6" font-size="11" text-anchor="start" >Filter+TENG</text><line x1="500" y1="32" x2="519.7" y2="32" stroke="#000" stroke-width="1"/><circle cx="509.7" cy="32" r="2.5" fill="url(#gG)"/><text x="520.3" y="35.4" font-size="11" text-anchor="start" >Filter</text><line x1="500" y1="42.6" x2="519.7" y2="42.6" stroke="#d03030" stroke-width="1"/><circle cx="509.7" cy="42.6" r="2.5" fill="url(#gR)"/><text x="520.3" y="45.8" font-size="11" text-anchor="start" >Filter+TENG</text><line x1="210.8" y1="261.7" x2="229.2" y2="261.7" stroke="#000" stroke-width="1"/><circle cx="220" cy="261.7" r="2.5" fill="url(#gK)"/><text x="230.3" y="264.8" font-size="12" text-anchor="start" >Dust Air</text><line x1="210.8" y1="271.4" x2="229.2" y2="271.4" stroke="#c85050" stroke-width="1"/><circle cx="220" cy="271.4" r="2.5" fill="url(#gG)"/><text x="230.3" y="274.5" font-size="11" text-anchor="start" >Filter</text><line x1="210.8" y1="281.2" x2="229.2" y2="281.2" stroke="#3a4a98" stroke-width="1"/><circle cx="220" cy="281.2" r="2.5" fill="url(#gR)"/><text x="230.3" y="284.3" font-size="11" text-anchor="start" >Filter+TENG</text><line x1="500.3" y1="302" x2="519.7" y2="302" stroke="#000" stroke-width="1"/><circle cx="510" cy="302" r="2.5" fill="url(#gG)"/><text x="520.3" y="305.8" font-size="11" text-anchor="start" >Filter</text><line x1="500.3" y1="313" x2="519.7" y2="313" stroke="#d03030" stroke-width="1"/><circle cx="510" cy="313" r="2.5" fill="url(#gR)"/><text x="520.3" y="316.3" font-size="11" text-anchor="start" >Filter+TENG</text>
</svg>
</body></html>
